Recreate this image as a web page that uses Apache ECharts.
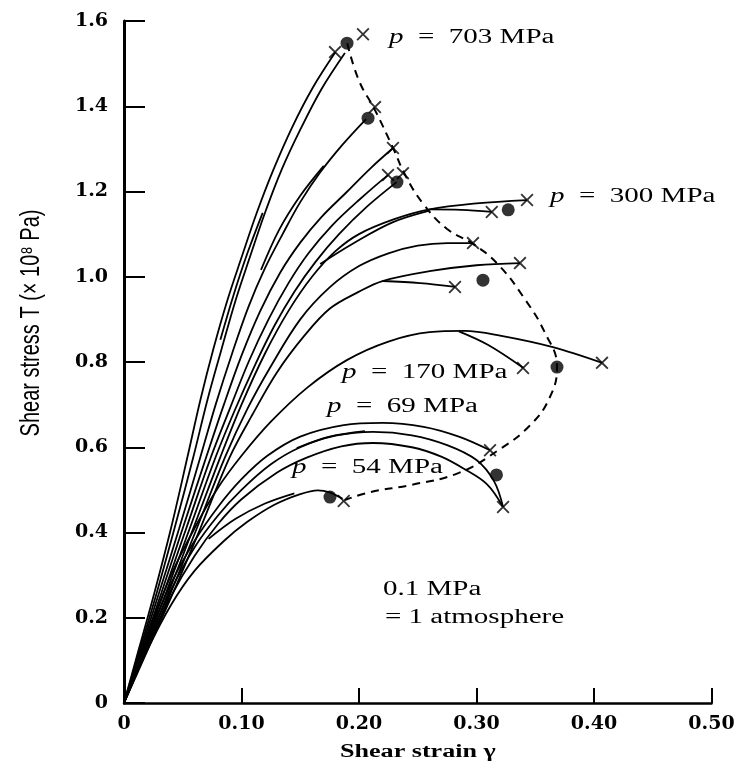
<!DOCTYPE html>
<html>
<head>
<meta charset="utf-8">
<script src="https://cdn.jsdelivr.net/npm/echarts@6/dist/echarts.min.js"></script>
<style>
  html, body { margin: 0; padding: 0; background: #ffffff; }
  #chart { width: 738px; height: 764px; }
</style>
</head>
<body>
<div id="chart"></div>
<script>
// Shear stress (x10^8 Pa) versus shear strain, loading curves at several confining pressures.

const xTicks = [0, 0.10, 0.20, 0.30, 0.40, 0.50];
const yTicks = [0, 0.2, 0.4, 0.6, 0.8, 1.0, 1.2, 1.4, 1.6];

// p = 703 MPa pair
const run703a = [[0,0],[0.013,0.13],[0.026,0.26],[0.04,0.41],[0.054,0.577],[0.065,0.711],[0.076,0.83],[0.088,0.945],[0.1,1.045],[0.113,1.15],[0.127,1.25],[0.143,1.35],[0.161,1.445],[0.18,1.527]];
const run703b = [[0,0],[0.014,0.13],[0.028,0.26],[0.043,0.41],[0.059,0.577],[0.071,0.711],[0.083,0.83],[0.095,0.945],[0.107,1.045],[0.12,1.15],[0.134,1.25],[0.15,1.345],[0.168,1.44],[0.188,1.525]];
const runC = [[0,0],[0.015,0.13],[0.03,0.26],[0.047,0.41],[0.065,0.577],[0.078,0.7],[0.092,0.82],[0.106,0.93],[0.12,1.02],[0.135,1.1],[0.15,1.175],[0.167,1.245],[0.186,1.31],[0.206,1.37]];
const runD = [[0,0],[0.016,0.13],[0.032,0.26],[0.05,0.41],[0.07,0.577],[0.085,0.7],[0.1,0.815],[0.116,0.92],[0.133,1.01],[0.15,1.08],[0.168,1.14],[0.19,1.2],[0.21,1.255],[0.229,1.302]];
const runE = [[0,0],[0.017,0.13],[0.034,0.26],[0.053,0.41],[0.074,0.577],[0.09,0.69],[0.106,0.8],[0.123,0.9],[0.14,0.985],[0.157,1.055],[0.177,1.12],[0.2,1.18],[0.225,1.239]];
const runF = [[0,0],[0.018,0.13],[0.036,0.26],[0.056,0.41],[0.078,0.577],[0.094,0.685],[0.111,0.79],[0.128,0.885],[0.145,0.965],[0.163,1.035],[0.183,1.1],[0.207,1.165],[0.232,1.222]];
// p = 300 MPa
const run300 = [[0,0],[0.019,0.13],[0.038,0.26],[0.059,0.41],[0.082,0.577],[0.1,0.7],[0.12,0.82],[0.14,0.92],[0.16,1.0],[0.18,1.06],[0.2,1.1],[0.23,1.135],[0.26,1.158],[0.3,1.172],[0.343,1.18]];
const run300branch = [[0.26,1.158],[0.287,1.157],[0.313,1.152]];
const run300reload = [[0.167,1.03],[0.195,1.078],[0.228,1.127],[0.26,1.155]];
const runH = [[0,0],[0.02,0.13],[0.04,0.26],[0.062,0.41],[0.086,0.577],[0.105,0.69],[0.125,0.79],[0.15,0.9],[0.175,0.975],[0.2,1.025],[0.225,1.055],[0.25,1.073],[0.275,1.079],[0.297,1.079]];
const runI = [[0,0],[0.021,0.13],[0.042,0.26],[0.065,0.41],[0.09,0.577],[0.11,0.68],[0.13,0.775],[0.153,0.86],[0.175,0.925],[0.2,0.965],[0.22,0.99],[0.26,1.013],[0.3,1.027],[0.337,1.032]];
const runIbranch = [[0.22,0.99],[0.252,0.985],[0.282,0.976]];
// p = 170 MPa
const run170 = [[0,0],[0.02,0.16],[0.04,0.3],[0.06,0.41],[0.08,0.505],[0.1,0.58],[0.125,0.66],[0.156,0.74],[0.19,0.805],[0.225,0.848],[0.26,0.87],[0.29,0.873],[0.32,0.862],[0.365,0.835],[0.407,0.798]];
const run170branch = [[0.285,0.872],[0.31,0.84],[0.34,0.786]];
// p = 69 MPa group
const run69a = [[0,0],[0.02,0.15],[0.04,0.28],[0.06,0.38],[0.08,0.46],[0.1,0.525],[0.122,0.58],[0.15,0.625],[0.187,0.652],[0.22,0.657],[0.255,0.648],[0.285,0.625],[0.3115,0.593]];
const run69b = [[0,0],[0.02,0.14],[0.04,0.265],[0.06,0.365],[0.08,0.44],[0.1,0.5],[0.125,0.56],[0.15,0.6],[0.18,0.627],[0.212,0.636],[0.245,0.628],[0.275,0.605],[0.3,0.57],[0.315,0.52],[0.3226,0.46]];
const run69c = [[0,0],[0.02,0.13],[0.04,0.25],[0.06,0.345],[0.08,0.42],[0.1,0.478],[0.13,0.54],[0.155,0.575],[0.185,0.602],[0.212,0.61],[0.245,0.6],[0.27,0.578],[0.289,0.55],[0.309,0.513],[0.3226,0.46]];
const run69reload = [[0.147,0.598],[0.175,0.625],[0.205,0.638]];
// p = 54 MPa
const run54 = [[0,0],[0.02,0.125],[0.04,0.23],[0.06,0.31],[0.085,0.38],[0.105,0.425],[0.128,0.465],[0.15,0.49],[0.165,0.499],[0.175,0.494],[0.186,0.479]];
const run54reload = [[0.072,0.385],[0.095,0.432],[0.12,0.468],[0.145,0.492]];
// short reloading pieces on the steep curves
const reloadAB = [[0.082,0.852],[0.093,0.955],[0.105,1.055],[0.118,1.15]];
const reloadC = [[0.1166,1.016],[0.132,1.11],[0.15,1.19],[0.17,1.26]];

// end points of the runs
const crossPoints = [[0.1796,1.527],[0.2034,1.569],[0.2136,1.398],[0.2289,1.302],[0.2247,1.239],[0.2374,1.243],[0.343,1.18],[0.313,1.152],[0.297,1.079],[0.337,1.032],[0.2817,0.976],[0.4068,0.798],[0.3396,0.786],[0.3115,0.593],[0.3226,0.46],[0.187,0.474]];
const dotPoints = [[0.1898,1.548],[0.2077,1.372],[0.2323,1.222],[0.327,1.157],[0.3055,0.992],[0.3685,0.788],[0.317,0.535],[0.1753,0.483]];

// dashed locus through the end points
const envelope = [[0.19,1.548],[0.2,1.46],[0.2136,1.391],[0.229,1.302],[0.24,1.235],[0.255,1.17],[0.275,1.112],[0.297,1.077],[0.318,1.03],[0.34,0.952],[0.358,0.87],[0.3685,0.788],[0.362,0.715],[0.345,0.65],[0.318,0.592],[0.285,0.54],[0.245,0.512],[0.21,0.495],[0.188,0.476]];

const solidRuns = [run703a, run703b, runC, runD, runE, runF, run300, run300branch, run300reload,
  runH, runI, runIbranch, run170, run170branch, run69a, run69b, run69c, run69reload,
  run54, run54reload, reloadAB, reloadC];

const crossPath = 'path://M1,0L5,4L9,0L10,1L6,5L10,9L9,10L5,6L1,10L0,9L4,5L0,1Z';

const serif = '"Liberation Serif", "Times New Roman", serif';
const series = solidRuns.map(function (d) {
  return {
    type: 'line', data: d, smooth: 0.35, symbol: 'none', silent: true,
    lineStyle: { color: '#000', width: 1.8 }, z: 2
  };
});
series.push({
  type: 'line', data: envelope, smooth: 0.45, symbol: 'none', silent: true,
  lineStyle: { color: '#000', width: 2, type: [8, 6] }, z: 2
});
series.push({
  type: 'scatter', data: crossPoints, symbol: crossPath, symbolSize: 13, silent: true,
  itemStyle: { color: '#000' }, z: 3
});
series.push({
  type: 'scatter', data: dotPoints, symbol: 'circle', symbolSize: 13, silent: true,
  itemStyle: { color: '#000' }, z: 3
});

function label(x, y, parts, bold) {
  return {
    type: 'text', x: x, y: y, scaleX: 1.45, silent: true,
    style: {
      text: parts, fill: '#000', verticalAlign: 'middle', textAlign: 'left',
      font: (bold ? 'bold ' : '') + '20px ' + serif,
      rich: {
        i: { fontStyle: 'italic', fontSize: 20, fontFamily: serif },
        n: { fontSize: 20, fontFamily: serif }
      }
    }
  };
}

const chart = echarts.init(document.getElementById('chart'), null, { renderer: 'canvas' });
chart.setOption({
  animation: false,
  backgroundColor: '#fff',
  grid: { left: 124, right: 26.5, top: 21, bottom: 61 },
  xAxis: {
    type: 'value', min: 0, max: 0.5, interval: 0.1,
    axisLine: { show: true, lineStyle: { color: '#000', width: 2.5 } },
    axisTick: { show: true, inside: true, length: 15, lineStyle: { color: '#000', width: 2 } },
    splitLine: { show: false },
    axisLabel: {
      color: '#000', fontFamily: '"DejaVu Serif", serif', fontWeight: 'bold', fontSize: 19, margin: 12,
      formatter: function (v) { return v === 0 ? '0' : v.toFixed(2); }
    }
  },
  yAxis: {
    type: 'value', min: 0, max: 1.6, interval: 0.2,
    axisLine: { show: true, lineStyle: { color: '#000', width: 3 } },
    axisTick: { show: true, inside: true, length: 21, lineStyle: { color: '#000', width: 2 } },
    splitLine: { show: false },
    axisLabel: {
      color: '#000', fontFamily: '"DejaVu Serif", serif', fontWeight: 'bold', fontSize: 19, margin: 16,
      formatter: function (v) { return v === 0 ? '0' : v.toFixed(1); }
    }
  },
  series: series,
  graphic: [
    label(389, 38, '{i|p}{n|  =  703 MPa}'),
    label(550, 197, '{i|p}{n|  =  300 MPa}'),
    label(342, 373, '{i|p}{n|  =  170 MPa}'),
    label(327, 407, '{i|p}{n|  =  69 MPa}'),
    label(292, 468, '{i|p}{n|  =  54 MPa}'),
    label(383, 590, '{n|0.1 MPa}'),
    label(385, 618, '{n|= 1 atmosphere}'),
    {
      type: 'text', x: 340, y: 752, scaleX: 1.45, silent: true,
      style: { text: 'Shear strain \u03b3', fill: '#000', verticalAlign: 'middle', textAlign: 'left',
               font: 'bold 18px ' + serif }
    },
    {
      type: 'text', x: 31, y: 323, rotation: Math.PI / 2, scaleY: 1.4, silent: true,
      style: { text: 'Shear stress T (\u00d7 10\u2078 Pa)', fill: '#000', verticalAlign: 'middle', textAlign: 'center',
               font: '20px "Liberation Sans", Arial, sans-serif' }
    }
  ]
});
</script>
</body>
</html>
